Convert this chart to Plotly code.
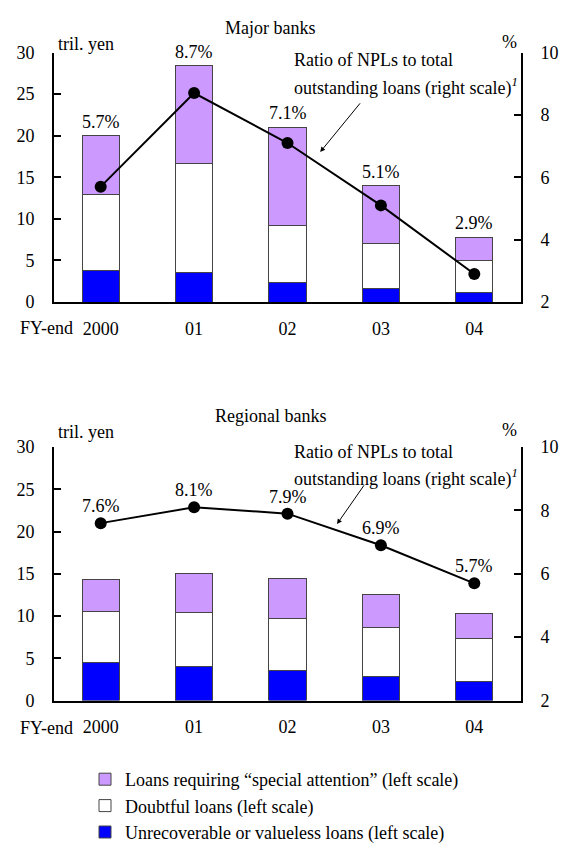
import plotly.graph_objects as go

# Fiscal-year categories (FY-end)
years = ["2000", "01", "02", "03", "04"]

# Major banks, trillion yen
major_unrecoverable = [3.8, 3.6, 2.3, 1.6, 1.2]
major_doubtful = [9.1, 13.1, 6.9, 5.4, 3.8]
major_special = [7.1, 11.7, 11.8, 7.0, 2.8]
major_ratio = [5.7, 8.7, 7.1, 5.1, 2.9]  # %

# Regional banks, trillion yen
regional_unrecoverable = [4.5, 4.0, 3.5, 2.9, 2.2]
regional_doubtful = [6.0, 6.4, 6.2, 5.7, 5.1]
regional_special = [3.8, 4.6, 4.8, 4.0, 3.0]
regional_ratio = [7.6, 8.1, 7.9, 6.9, 5.7]  # %

left_ticks = [0, 5, 10, 15, 20, 25, 30]
right_ticks = [2, 4, 6, 8, 10]

series_names = [
    "Unrecoverable or valueless loans (left scale)",
    "Doubtful loans (left scale)",
    "Loans requiring \u201cspecial attention\u201d (left scale)",
]
series_colors = ["#0000FF", "#FFFFFF", "#CC99FF"]

FONT = "'Liberation Serif', 'Times New Roman', Times, serif"
W, H = 569, 851
L_PX, R_PX = 54, 521


def px_x(p):
    return (p - L_PX) / (R_PX - L_PX)


def px_y(p):
    return 1 - p / H


fig = go.Figure()

panels = [
    ("x", "y", "y2", [major_unrecoverable, major_doubtful, major_special], major_ratio, True),
    ("x2", "y3", "y4", [regional_unrecoverable, regional_doubtful, regional_special], regional_ratio, False),
]

for xa, ya, ya_r, stacks, ratio, show in panels:
    for name, color, vals in zip(series_names, series_colors, stacks):
        fig.add_trace(go.Bar(
            x=years, y=vals, name=name, xaxis=xa, yaxis=ya,
            marker=dict(color=color, line=dict(color="#444444", width=1)),
            width=0.4, showlegend=show, legendgroup=name,
        ))
    fig.add_trace(go.Scatter(
        x=years, y=ratio, xaxis=xa, yaxis=ya_r, mode="lines+markers",
        line=dict(color="black", width=2),
        marker=dict(color="black", size=12),
        showlegend=False,
    ))

annotations = []
txt_font = dict(family=FONT, size=18, color="black")

# Percentage labels: above the stacked bars (major) and above the markers (regional)
for i in range(len(years)):
    total = major_unrecoverable[i] + major_doubtful[i] + major_special[i]
    annotations.append(dict(x=i, y=total, xref="x", yref="y", text=f"{major_ratio[i]:.1f}%",
                            showarrow=False, yanchor="middle", yshift=14, font=txt_font))
    annotations.append(dict(x=i, y=regional_ratio[i], xref="x2", yref="y4",
                            text=f"{regional_ratio[i]:.1f}%",
                            showarrow=False, yanchor="middle", yshift=17, font=txt_font))

for title, ty, unit_y, ratio_y1, ratio_y2, fy_y in [
    ("Major banks", 19, 35, 52, 80, 329),
    ("Regional banks", 420, 436, 457, 484, 742),
]:
    annotations += [
        dict(x=px_x(270), y=px_y(ty), xref="paper", yref="paper", text=title,
             showarrow=False, xanchor="center", yanchor="middle", font=txt_font),
        dict(x=px_x(56), y=px_y(unit_y), xref="paper", yref="paper", text="tril. yen",
             showarrow=False, xanchor="left", yanchor="middle", font=txt_font),
        dict(x=px_x(519), y=px_y(unit_y - 2), xref="paper", yref="paper", text="%",
             showarrow=False, xanchor="right", yanchor="middle", font=txt_font),
        dict(x=px_x(292), y=px_y(ratio_y1), xref="paper", yref="paper",
             text="Ratio of NPLs to total",
             showarrow=False, xanchor="left", yanchor="middle", font=txt_font),
        dict(x=px_x(292), y=px_y(ratio_y2), xref="paper", yref="paper",
             text="outstanding loans (right scale)<sup><i>1</i></sup>",
             showarrow=False, xanchor="left", yanchor="middle", font=txt_font),
        dict(x=px_x(75), y=px_y(fy_y), xref="paper", yref="paper", text="FY-end",
             showarrow=False, xanchor="right", yanchor="middle", font=txt_font),
    ]

# Arrows pointing from the caption to the ratio line
annotations.append(dict(x=2.35, y=6.81, xref="x", yref="y2", ax=2.79, ay=8.42,
                        axref="x", ayref="y2", text="", showarrow=True,
                        arrowhead=2, arrowsize=1, arrowwidth=1, arrowcolor="black"))
annotations.append(dict(x=2.53, y=7.57, xref="x2", yref="y4", ax=2.83, ay=8.84,
                        axref="x2", ayref="y4", text="", showarrow=True,
                        arrowhead=2, arrowsize=1, arrowwidth=1, arrowcolor="black"))

tick_font = dict(family=FONT, size=18, color="black")

xaxis_common = dict(type="category", categoryorder="array", categoryarray=years,
                    range=[-0.5, 4.5], showline=True, linecolor="black", linewidth=2,
                    ticks="", showgrid=False, zeroline=False, tickfont=tick_font,
                    ticklabelstandoff=9, domain=[0, 1])
yleft_common = dict(range=[0, 30], tickvals=left_ticks, showline=True, linecolor="black",
                    linewidth=2, ticks="inside", ticklen=7, tickwidth=2, tickcolor="black",
                    showgrid=False, zeroline=False, tickfont=tick_font, ticklabelstandoff=14)
yright_common = dict(range=[2, 10], tickvals=right_ticks, side="right", showline=True,
                     linecolor="black", linewidth=2, ticks="inside", ticklen=7, tickwidth=2,
                     tickcolor="black", showgrid=False, zeroline=False, tickfont=tick_font,
                     ticklabelstandoff=14)

top_dom = [px_y(302), px_y(44)]
bot_dom = [px_y(714), px_y(452)]

fig.update_layout(
    width=W, height=H,
    margin=dict(l=L_PX, r=W - R_PX, t=0, b=0),
    paper_bgcolor="white", plot_bgcolor="white",
    barmode="stack", bargap=0.6,
    font=dict(family=FONT, size=18, color="black"),
    xaxis=dict(xaxis_common, anchor="y"),
    xaxis2=dict(xaxis_common, anchor="y3"),
    yaxis=dict(yleft_common, domain=top_dom, anchor="x"),
    yaxis2=dict(yright_common, domain=top_dom, anchor="x", overlaying="y"),
    yaxis3=dict(yleft_common, domain=bot_dom, anchor="x2"),
    yaxis4=dict(yright_common, domain=bot_dom, anchor="x2", overlaying="y3"),
    legend=dict(x=px_x(85), y=px_y(777), xanchor="left", yanchor="top",
                traceorder="reversed", font=dict(family=FONT, size=18, color="black"),
                bgcolor="rgba(0,0,0,0)", itemwidth=30, tracegroupgap=0),
    annotations=annotations,
)

fig.write_html("out.html")
